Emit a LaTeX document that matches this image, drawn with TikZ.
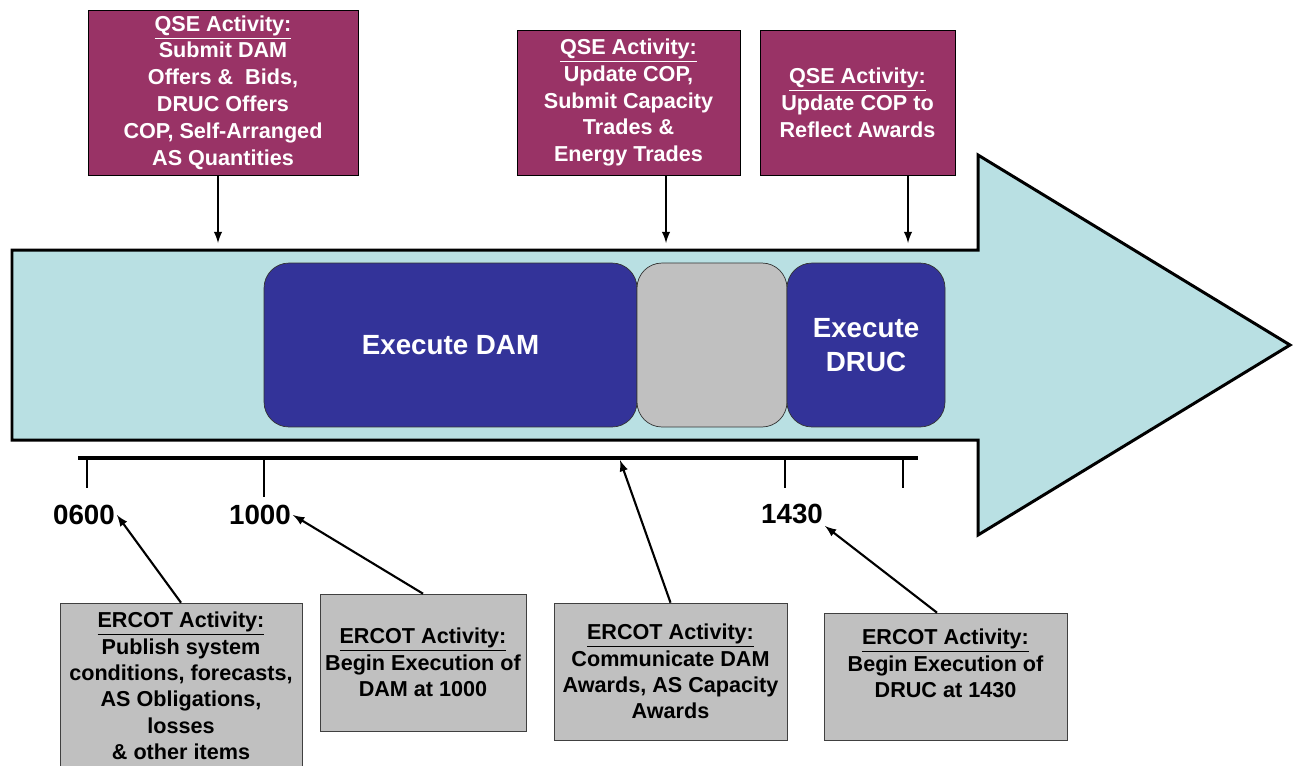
\documentclass[tikz,border=0pt]{standalone}
\usepackage{fontspec}
\setmainfont{Liberation Sans}
\usepackage{xcolor}
\usetikzlibrary{arrows}
\definecolor{qsered}{HTML}{993366}
\definecolor{timecyan}{HTML}{B9E0E3}
\definecolor{execblue}{HTML}{333399}
\definecolor{ercotgray}{HTML}{C0C0C0}

\begin{document}
\begin{tikzpicture}[x=0.02cm,y=-0.02cm,
	qse/.style={draw=black,fill=qsered,text=white,inner sep=0pt,align=center,%
		font=\bfseries\fontsize{12.3}{15.3}\selectfont},
	ercot/.style={draw=black!75,fill=ercotgray,inner sep=0pt,align=center,%
		font=\bfseries\fontsize{12.3}{15}\selectfont},
	phase/.style={draw=black!80,rounded corners=0.5cm,text=white,inner sep=0pt,%
		minimum height=3.28cm,align=center,font=\bfseries\fontsize{15.8}{19.8}\selectfont},
	hour/.style={inner sep=1pt,font=\bfseries\fontsize{15.8}{19}\selectfont},
	feed/.style={-latex,line width=1.2pt}]
			\useasboundingbox (0,0) rectangle (1293,765);
			
			\draw[fill=timecyan,line width=1.7pt] (12,250)--(978,250)--(978,155)--(1290,345)%
			--(978,535)--(978,440)--(12,440)--cycle;
			
			\node[phase,fill=execblue,minimum width=7.46cm] (dam) at (450.5,345) {Execute DAM};
			\node[phase,fill=ercotgray,minimum width=3cm] (gap) at (712,345) {};
			\node[phase,fill=execblue,minimum width=3.16cm] (druc) at (866,345) {Execute\\DRUC};
			
			\coordinate (in1) at (218,243);
			\coordinate (in2) at (666,243);
			\coordinate (in3) at (908,243);
			
			\node[qse,minimum width=5.4cm,minimum height=3.3cm] (q1) at (223,92.5)
			{\underline{QSE Activity:}\\Submit DAM\\Offers \&\ \ Bids,\\DRUC Offers\\COP, Self-Arranged\\AS Quantities};
			\node[qse,minimum width=4.46cm,minimum height=2.9cm] (q2) at (628.5,102.5)
			{\underline{QSE Activity:}\\Update COP,\\Submit Capacity\\Trades \&\\Energy Trades};
			\node[qse,minimum width=3.9cm,minimum height=2.9cm] (q3) at (857.5,102.5)
			{\underline{QSE Activity:}\\Update COP to\\Reflect Awards};
			
			\draw[feed] (q1.south -| in1)--(in1);
			\draw[feed] (q2.south -| in2)--(in2);
			\draw[feed] (q3.south -| in3)--(in3);
			
			\draw[line width=2.3pt] (78,458)--(918,458);
			\draw[line width=1.4pt] (87,458)--(87,488);
			\draw[line width=1.4pt] (264,458)--(264,497);
			\draw[line width=1.4pt] (785,458)--(785,488);
			\draw[line width=1.4pt] (903,458)--(903,488);
			\coordinate (tl3) at (620,460);
			
			\node[hour] (h0600) at (84,515) {0600};
			\node[hour] (h1000) at (260,515) {1000};
			\node[hour] (h1430) at (792,514) {1430};
			
			\node[ercot,minimum width=4.84cm,minimum height=3.32cm] (e1) at (181,686)
			{\underline{ERCOT Activity:}\\Publish system\\conditions, forecasts,\\AS Obligations,\\losses\\\& other items};
			\node[ercot,minimum width=4.12cm,minimum height=2.74cm] (e2) at (423,662.5)
			{\underline{ERCOT Activity:}\\Begin Execution of\\DAM at 1000};
			\node[ercot,minimum width=4.66cm,minimum height=2.74cm] (e3) at (670.5,671.5)
			{\underline{ERCOT Activity:}\\Communicate DAM\\Awards, AS Capacity\\Awards};
			\node[ercot,minimum width=4.86cm,minimum height=2.54cm] (e4) at (945.5,676.5)
			{\underline{ERCOT Activity:}\\Begin Execution of\\DRUC at 1430\\~};
			
			\draw[feed] (e1.north)--(h0600.east);
			\draw[feed] (e2.north)--(h1000.east);
			\draw[feed] (e3.north)--(tl3);
			\draw[feed] ([xshift=-0.17cm]e4.north)--(h1430.south east);
		\end{tikzpicture}
\end{document}
